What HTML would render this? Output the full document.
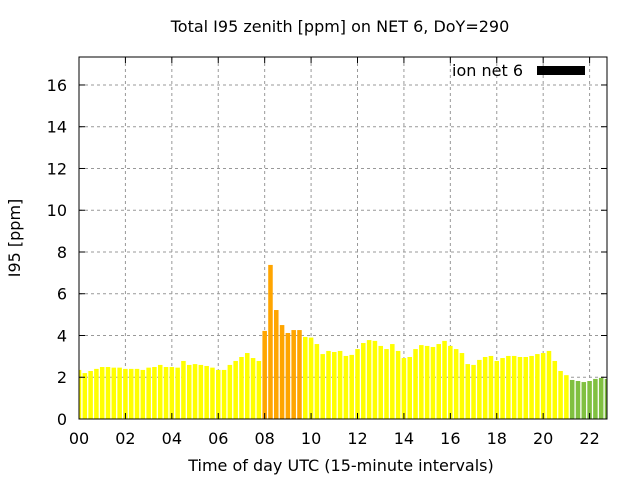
<!DOCTYPE html>
<html><head><meta charset="utf-8"><style>
body{margin:0;background:#fff}
svg{display:block;font-family:"DejaVu Sans","Liberation Sans",sans-serif}
</style></head><body>
<svg id="chart" width="640" height="480">
<text x="340" y="32" text-anchor="middle" font-size="16">Total I95 zenith [ppm] on NET 6, DoY=290</text>
<text x="341" y="471" text-anchor="middle" font-size="16">Time of day UTC (15-minute intervals)</text>
<text x="20" y="238" text-anchor="middle" font-size="16" transform="rotate(-90 20 238)">I95 [ppm]</text>
<g id="grid"></g><g id="bars"></g><g id="axes"></g>
<text x="523" y="76" text-anchor="end" font-size="16">ion net 6</text>
<rect x="537" y="66" width="48" height="9" fill="#000"/>
</svg>
<script>
const values=[2.35,2.2,2.3,2.4,2.49,2.49,2.46,2.46,2.4,2.4,2.4,2.35,2.46,2.49,2.59,2.49,2.49,2.46,2.78,2.59,2.63,2.59,2.54,2.46,2.35,2.35,2.59,2.78,2.97,3.16,2.92,2.78,4.22,7.38,5.22,4.5,4.12,4.26,4.26,3.93,3.9,3.59,3.11,3.26,3.21,3.26,3.02,3.07,3.35,3.64,3.78,3.74,3.5,3.35,3.59,3.26,2.92,2.97,3.35,3.54,3.5,3.45,3.59,3.74,3.5,3.35,3.16,2.63,2.59,2.83,2.97,3.02,2.78,2.92,3.02,3.02,2.97,2.97,3.02,3.11,3.16,3.26,2.78,2.3,2.1,1.87,1.82,1.77,1.82,1.92,1.97,1.92];
const levels=[0,0,0,0,0,0,0,0,0,0,0,0,0,0,0,0,0,0,0,0,0,0,0,0,0,0,0,0,0,0,0,0,1,1,1,1,1,1,1,0,0,0,0,0,0,0,0,0,0,0,0,0,0,0,0,0,0,0,0,0,0,0,0,0,0,0,0,0,0,0,0,0,0,0,0,0,0,0,0,0,0,0,0,0,0,2,2,2,2,2,2,2];
const yTicks=[0,2,4,6,8,10,12,14,16];
const xTickLabels=["00","02","04","06","08","10","12","14","16","18","20","22"];
const colors=["#ffff00","#ffa500","#80c040"];
const L=79,R=607,T=57,B=419,XMAX=22.75,YMAX=17.34;
const X=h=>L+h/XMAX*(R-L), Y=v=>B-v/YMAX*(B-T);
const NS="http://www.w3.org/2000/svg";
function mk(tag,attrs,parent){const e=document.createElementNS(NS,tag);for(const k in attrs)e.setAttribute(k,attrs[k]);parent.appendChild(e);return e;}
const grid=document.getElementById('grid'),bars=document.getElementById('bars'),axes=document.getElementById('axes');
yTicks.forEach(v=>{const y=Y(v);
 if(v>0){const g=mk('line',{x1:L,x2:R,y1:y,y2:y,stroke:'#999','stroke-dasharray':'3,3'},grid);
 
 }
 mk('line',{x1:L,x2:L+6,y1:y,y2:y,stroke:'#000'},axes);
 mk('line',{x1:R-6,x2:R,y1:y,y2:y,stroke:'#000'},axes);
 const t=mk('text',{x:L-12,y:y+6,'text-anchor':'end','font-size':16},axes);t.textContent=v;
 
 
});
xTickLabels.forEach((s,i)=>{const x=X(i*2);
 if(i>0){const g=mk('line',{x1:x,x2:x,y1:T,y2:B,stroke:'#999','stroke-dasharray':'3,3'},grid);
 
 }
 mk('line',{x1:x,x2:x,y1:B,y2:B-6,stroke:'#000'},axes);
 mk('line',{x1:x,x2:x,y1:T,y2:T+6,stroke:'#000'},axes);
 const t=mk('text',{x:x,y:B+25,'text-anchor':'middle','font-size':16},axes);t.textContent=s;
 
 
});
const bw=(R-L)/(values.length-1)*0.78;
values.forEach((v,i)=>{const cx=X(i*0.25);let x1=Math.max(L,cx-bw/2),x2=Math.min(R,cx+bw/2);
 const b=mk('rect',{x:x1,y:Y(v),width:x2-x1,height:B-Y(v),fill:colors[levels[i]]},bars);
 
 
});
const f=mk('rect',{x:L,y:T,width:R-L,height:B-T,fill:'none',stroke:'#000'},axes);


</script>
</body></html>
